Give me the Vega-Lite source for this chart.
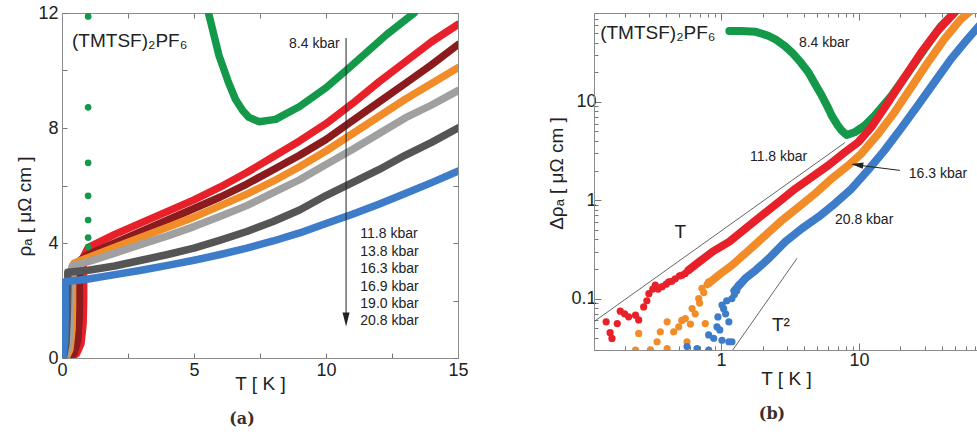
{
  "$schema": "https://vega.github.io/schema/vega-lite/v6.json",
  "padding": {"left": 15, "top": 4, "right": 0, "bottom": 0},
  "background": "white",
  "bounds": "flush",
  "spacing": 136,
  "config": {
    "font": "Liberation Sans",
    "view": {"stroke": null},
    "axis": {
      "grid": false,
      "labelFont": "Liberation Sans",
      "labelFontSize": 18,
      "labelColor": "#222",
      "titleFont": "Liberation Sans",
      "titleFontSize": 19,
      "titleFontWeight": "normal",
      "titleColor": "#222",
      "domainColor": "#8c8c8c",
      "tickColor": "#777",
      "labelFlush": false,
      "labelOverlap": false
    }
  },
  "datasets": {
    "lineA": [
      {"s": "11.8", "k": 0, "T": 0.3, "r": 0}, {"s": "11.8", "k": 1, "T": 0.55, "r": 0.15}, {"s": "11.8", "k": 2, "T": 0.72, "r": 0.5}, {"s": "11.8", "k": 3, "T": 0.8, "r": 1.2}, {"s": "11.8", "k": 4, "T": 0.82, "r": 2.0}, {"s": "11.8", "k": 5, "T": 0.82, "r": 2.8}, {"s": "11.8", "k": 6, "T": 0.8, "r": 3.5}, {"s": "11.8", "k": 7, "T": 1, "r": 3.85}, {"s": "11.8", "k": 8, "T": 2, "r": 4.3}, {"s": "11.8", "k": 9, "T": 3, "r": 4.7}, {"s": "11.8", "k": 10, "T": 4, "r": 5.1}, {"s": "11.8", "k": 11, "T": 5, "r": 5.5}, {"s": "11.8", "k": 12, "T": 6, "r": 5.95}, {"s": "11.8", "k": 13, "T": 7, "r": 6.45}, {"s": "11.8", "k": 14, "T": 8, "r": 7.0}, {"s": "11.8", "k": 15, "T": 9, "r": 7.55}, {"s": "11.8", "k": 16, "T": 10, "r": 8.15}, {"s": "11.8", "k": 17, "T": 11, "r": 8.85}, {"s": "11.8", "k": 18, "T": 12, "r": 9.6}, {"s": "11.8", "k": 19, "T": 13, "r": 10.3}, {"s": "11.8", "k": 20, "T": 14, "r": 11.0}, {"s": "11.8", "k": 21, "T": 15, "r": 11.6},
      {"s": "13.8", "k": 0, "T": 0.25, "r": 0}, {"s": "13.8", "k": 1, "T": 0.45, "r": 0.15}, {"s": "13.8", "k": 2, "T": 0.6, "r": 0.6}, {"s": "13.8", "k": 3, "T": 0.65, "r": 1.4}, {"s": "13.8", "k": 4, "T": 0.66, "r": 2.2}, {"s": "13.8", "k": 5, "T": 0.65, "r": 2.9}, {"s": "13.8", "k": 6, "T": 0.62, "r": 3.35}, {"s": "13.8", "k": 7, "T": 1, "r": 3.6}, {"s": "13.8", "k": 8, "T": 2, "r": 4.0}, {"s": "13.8", "k": 9, "T": 3, "r": 4.4}, {"s": "13.8", "k": 10, "T": 4, "r": 4.8}, {"s": "13.8", "k": 11, "T": 5, "r": 5.2}, {"s": "13.8", "k": 12, "T": 6, "r": 5.6}, {"s": "13.8", "k": 13, "T": 7, "r": 6.05}, {"s": "13.8", "k": 14, "T": 8, "r": 6.55}, {"s": "13.8", "k": 15, "T": 9, "r": 7.05}, {"s": "13.8", "k": 16, "T": 10, "r": 7.6}, {"s": "13.8", "k": 17, "T": 11, "r": 8.25}, {"s": "13.8", "k": 18, "T": 12, "r": 8.9}, {"s": "13.8", "k": 19, "T": 13, "r": 9.55}, {"s": "13.8", "k": 20, "T": 14, "r": 10.2}, {"s": "13.8", "k": 21, "T": 15, "r": 10.9},
      {"s": "16.3", "k": 0, "T": 0.15, "r": 0}, {"s": "16.3", "k": 1, "T": 0.3, "r": 0.3}, {"s": "16.3", "k": 2, "T": 0.38, "r": 1.0}, {"s": "16.3", "k": 3, "T": 0.4, "r": 1.8}, {"s": "16.3", "k": 4, "T": 0.4, "r": 2.6}, {"s": "16.3", "k": 5, "T": 0.45, "r": 3.3}, {"s": "16.3", "k": 6, "T": 1, "r": 3.5}, {"s": "16.3", "k": 7, "T": 2, "r": 3.85}, {"s": "16.3", "k": 8, "T": 3, "r": 4.2}, {"s": "16.3", "k": 9, "T": 4, "r": 4.55}, {"s": "16.3", "k": 10, "T": 5, "r": 4.9}, {"s": "16.3", "k": 11, "T": 6, "r": 5.3}, {"s": "16.3", "k": 12, "T": 7, "r": 5.7}, {"s": "16.3", "k": 13, "T": 8, "r": 6.15}, {"s": "16.3", "k": 14, "T": 9, "r": 6.65}, {"s": "16.3", "k": 15, "T": 10, "r": 7.2}, {"s": "16.3", "k": 16, "T": 11, "r": 7.8}, {"s": "16.3", "k": 17, "T": 12, "r": 8.4}, {"s": "16.3", "k": 18, "T": 13, "r": 9.0}, {"s": "16.3", "k": 19, "T": 14, "r": 9.55}, {"s": "16.3", "k": 20, "T": 15, "r": 10.1},
      {"s": "16.9", "k": 0, "T": 0.1, "r": 0}, {"s": "16.9", "k": 1, "T": 0.25, "r": 0.4}, {"s": "16.9", "k": 2, "T": 0.3, "r": 1.2}, {"s": "16.9", "k": 3, "T": 0.32, "r": 2.0}, {"s": "16.9", "k": 4, "T": 0.33, "r": 2.7}, {"s": "16.9", "k": 5, "T": 0.38, "r": 3.2}, {"s": "16.9", "k": 6, "T": 1, "r": 3.35}, {"s": "16.9", "k": 7, "T": 2, "r": 3.65}, {"s": "16.9", "k": 8, "T": 3, "r": 3.95}, {"s": "16.9", "k": 9, "T": 4, "r": 4.25}, {"s": "16.9", "k": 10, "T": 5, "r": 4.57}, {"s": "16.9", "k": 11, "T": 6, "r": 4.93}, {"s": "16.9", "k": 12, "T": 7, "r": 5.3}, {"s": "16.9", "k": 13, "T": 8, "r": 5.75}, {"s": "16.9", "k": 14, "T": 9, "r": 6.2}, {"s": "16.9", "k": 15, "T": 10, "r": 6.73}, {"s": "16.9", "k": 16, "T": 11, "r": 7.25}, {"s": "16.9", "k": 17, "T": 12, "r": 7.8}, {"s": "16.9", "k": 18, "T": 13, "r": 8.35}, {"s": "16.9", "k": 19, "T": 14, "r": 8.8}, {"s": "16.9", "k": 20, "T": 15, "r": 9.3},
      {"s": "19.0", "k": 0, "T": 0.05, "r": 0}, {"s": "19.0", "k": 1, "T": 0.15, "r": 0.5}, {"s": "19.0", "k": 2, "T": 0.2, "r": 1.5}, {"s": "19.0", "k": 3, "T": 0.22, "r": 2.4}, {"s": "19.0", "k": 4, "T": 0.22, "r": 2.98}, {"s": "19.0", "k": 5, "T": 1, "r": 3.05}, {"s": "19.0", "k": 6, "T": 2, "r": 3.2}, {"s": "19.0", "k": 7, "T": 3, "r": 3.4}, {"s": "19.0", "k": 8, "T": 4, "r": 3.6}, {"s": "19.0", "k": 9, "T": 5, "r": 3.82}, {"s": "19.0", "k": 10, "T": 6, "r": 4.1}, {"s": "19.0", "k": 11, "T": 7, "r": 4.4}, {"s": "19.0", "k": 12, "T": 8, "r": 4.75}, {"s": "19.0", "k": 13, "T": 9, "r": 5.15}, {"s": "19.0", "k": 14, "T": 10, "r": 5.65}, {"s": "19.0", "k": 15, "T": 11, "r": 6.1}, {"s": "19.0", "k": 16, "T": 12, "r": 6.55}, {"s": "19.0", "k": 17, "T": 13, "r": 7.05}, {"s": "19.0", "k": 18, "T": 14, "r": 7.5}, {"s": "19.0", "k": 19, "T": 15, "r": 8.0},
      {"s": "20.8", "k": 0, "T": 0.03, "r": 0}, {"s": "20.8", "k": 1, "T": 0.1, "r": 0.6}, {"s": "20.8", "k": 2, "T": 0.12, "r": 1.4}, {"s": "20.8", "k": 3, "T": 0.12, "r": 2.1}, {"s": "20.8", "k": 4, "T": 0.12, "r": 2.65}, {"s": "20.8", "k": 5, "T": 1, "r": 2.75}, {"s": "20.8", "k": 6, "T": 2, "r": 2.9}, {"s": "20.8", "k": 7, "T": 3, "r": 3.05}, {"s": "20.8", "k": 8, "T": 4, "r": 3.22}, {"s": "20.8", "k": 9, "T": 5, "r": 3.4}, {"s": "20.8", "k": 10, "T": 6, "r": 3.6}, {"s": "20.8", "k": 11, "T": 7, "r": 3.82}, {"s": "20.8", "k": 12, "T": 8, "r": 4.07}, {"s": "20.8", "k": 13, "T": 9, "r": 4.35}, {"s": "20.8", "k": 14, "T": 10, "r": 4.68}, {"s": "20.8", "k": 15, "T": 11, "r": 5.0}, {"s": "20.8", "k": 16, "T": 12, "r": 5.35}, {"s": "20.8", "k": 17, "T": 13, "r": 5.72}, {"s": "20.8", "k": 18, "T": 14, "r": 6.1}, {"s": "20.8", "k": 19, "T": 15, "r": 6.5},
      {"s": "8.4", "k": 0, "T": 5.45, "r": 12.6}, {"s": "8.4", "k": 1, "T": 5.55, "r": 12.0}, {"s": "8.4", "k": 2, "T": 5.94, "r": 10.54}, {"s": "8.4", "k": 3, "T": 6.3, "r": 9.6}, {"s": "8.4", "k": 4, "T": 6.57, "r": 9.0}, {"s": "8.4", "k": 5, "T": 6.85, "r": 8.6}, {"s": "8.4", "k": 6, "T": 7.08, "r": 8.37}, {"s": "8.4", "k": 7, "T": 7.46, "r": 8.22}, {"s": "8.4", "k": 8, "T": 8.09, "r": 8.3}, {"s": "8.4", "k": 9, "T": 9.0, "r": 8.75}, {"s": "8.4", "k": 10, "T": 10.0, "r": 9.4}, {"s": "8.4", "k": 11, "T": 10.76, "r": 10.0}, {"s": "8.4", "k": 12, "T": 11.5, "r": 10.6}, {"s": "8.4", "k": 13, "T": 12.3, "r": 11.25}, {"s": "8.4", "k": 14, "T": 13.34, "r": 12.0}, {"s": "8.4", "k": 15, "T": 13.6, "r": 12.4}
    ],
    "dotsA": [
      {"T": 0.99, "r": 11.88}, {"T": 0.99, "r": 8.72}, {"T": 0.99, "r": 6.79}, {"T": 0.99, "r": 5.64}, {"T": 0.99, "r": 4.8}, {"T": 0.99, "r": 4.19}, {"T": 0.99, "r": 3.86}
    ],
    "textA": [
      {"t": "8.4 kbar", "T": 8.6, "r": 10.92},
      {"t": "11.8 kbar", "T": 11.3, "r": 4.31},
      {"t": "13.8 kbar", "T": 11.3, "r": 3.68},
      {"t": "16.3 kbar", "T": 11.3, "r": 3.1},
      {"t": "16.9 kbar", "T": 11.3, "r": 2.47},
      {"t": "19.0 kbar", "T": 11.3, "r": 1.88},
      {"t": "20.8 kbar", "T": 11.3, "r": 1.29}
    ],
    "lineB": [
      {"s": "8.4", "T": 1.15, "v": 52.5}, {"s": "8.4", "T": 1.4, "v": 52.5}, {"s": "8.4", "T": 1.79, "v": 51.5}, {"s": "8.4", "T": 2.2, "v": 47}, {"s": "8.4", "T": 2.49, "v": 43}, {"s": "8.4", "T": 2.9, "v": 37}, {"s": "8.4", "T": 3.28, "v": 31.6}, {"s": "8.4", "T": 3.8, "v": 25}, {"s": "8.4", "T": 4.32, "v": 19.8}, {"s": "8.4", "T": 4.9, "v": 14.5}, {"s": "8.4", "T": 5.39, "v": 11.5}, {"s": "8.4", "T": 5.9, "v": 9}, {"s": "8.4", "T": 6.35, "v": 7.24}, {"s": "8.4", "T": 7.0, "v": 5.8}, {"s": "8.4", "T": 7.5, "v": 5.1}, {"s": "8.4", "T": 8.15, "v": 4.6}, {"s": "8.4", "T": 9.3, "v": 4.9}, {"s": "8.4", "T": 11.0, "v": 5.74}, {"s": "8.4", "T": 13.0, "v": 7.24}, {"s": "8.4", "T": 17.2, "v": 11.5}, {"s": "8.4", "T": 22.7, "v": 19.8}, {"s": "8.4", "T": 29.8, "v": 34.2}, {"s": "8.4", "T": 39.3, "v": 58.9}, {"s": "8.4", "T": 50.3, "v": 83},
      {"s": "11.8", "T": 0.58, "v": 0.194}, {"s": "11.8", "T": 0.7, "v": 0.238}, {"s": "11.8", "T": 0.87, "v": 0.3}, {"s": "11.8", "T": 1.15, "v": 0.379}, {"s": "11.8", "T": 1.51, "v": 0.517}, {"s": "11.8", "T": 1.99, "v": 0.705}, {"s": "11.8", "T": 2.63, "v": 0.962}, {"s": "11.8", "T": 3.46, "v": 1.31}, {"s": "11.8", "T": 4.56, "v": 1.72}, {"s": "11.8", "T": 6.0, "v": 2.26}, {"s": "11.8", "T": 7.92, "v": 3.08}, {"s": "11.8", "T": 9.9, "v": 3.89}, {"s": "11.8", "T": 12.3, "v": 5.53}, {"s": "11.8", "T": 16.3, "v": 9.9}, {"s": "11.8", "T": 21.4, "v": 17.7}, {"s": "11.8", "T": 28.2, "v": 31.6}, {"s": "11.8", "T": 37.1, "v": 52.5}, {"s": "11.8", "T": 49, "v": 80}, {"s": "11.8", "T": 55, "v": 100},
      {"s": "16.3", "T": 0.8, "v": 0.14}, {"s": "16.3", "T": 0.973, "v": 0.175}, {"s": "16.3", "T": 1.21, "v": 0.22}, {"s": "16.3", "T": 1.6, "v": 0.312}, {"s": "16.3", "T": 2.11, "v": 0.443}, {"s": "16.3", "T": 2.78, "v": 0.628}, {"s": "16.3", "T": 3.66, "v": 0.856}, {"s": "16.3", "T": 4.82, "v": 1.17}, {"s": "16.3", "T": 6.35, "v": 1.66}, {"s": "16.3", "T": 8.37, "v": 2.26}, {"s": "16.3", "T": 10.4, "v": 2.97}, {"s": "16.3", "T": 13.8, "v": 4.72}, {"s": "16.3", "T": 18.1, "v": 7.83}, {"s": "16.3", "T": 23.9, "v": 14.0}, {"s": "16.3", "T": 31.5, "v": 25.0}, {"s": "16.3", "T": 41.5, "v": 43.2}, {"s": "16.3", "T": 54.6, "v": 68.7}, {"s": "16.3", "T": 68.2, "v": 90},
      {"s": "20.8", "T": 1.25, "v": 0.12}, {"s": "20.8", "T": 1.5, "v": 0.16}, {"s": "20.8", "T": 1.79, "v": 0.195}, {"s": "20.8", "T": 2.23, "v": 0.257}, {"s": "20.8", "T": 2.93, "v": 0.379}, {"s": "20.8", "T": 3.87, "v": 0.517}, {"s": "20.8", "T": 5.1, "v": 0.678}, {"s": "20.8", "T": 6.7, "v": 0.925}, {"s": "20.8", "T": 8.85, "v": 1.31}, {"s": "20.8", "T": 11.6, "v": 2.01}, {"s": "20.8", "T": 15.3, "v": 3.2}, {"s": "20.8", "T": 20.1, "v": 5.3}, {"s": "20.8", "T": 26.6, "v": 9.1}, {"s": "20.8", "T": 35.1, "v": 15.7}, {"s": "20.8", "T": 46.4, "v": 27.1}, {"s": "20.8", "T": 61.1, "v": 43.2}, {"s": "20.8", "T": 75, "v": 60}
    ],
    "dotsB": [
      {"s": "11.8", "T": 0.147, "v": 0.058}, {"s": "11.8", "T": 0.162, "v": 0.0393}, {"s": "11.8", "T": 0.157, "v": 0.045}, {"s": "11.8", "T": 0.177, "v": 0.0557}, {"s": "11.8", "T": 0.186, "v": 0.0744}, {"s": "11.8", "T": 0.2, "v": 0.07}, {"s": "11.8", "T": 0.214, "v": 0.0652}, {"s": "11.8", "T": 0.24, "v": 0.0678}, {"s": "11.8", "T": 0.253, "v": 0.0606}, {"s": "11.8", "T": 0.275, "v": 0.0822}, {"s": "11.8", "T": 0.29, "v": 0.095}, {"s": "11.8", "T": 0.3, "v": 0.112}, {"s": "11.8", "T": 0.32, "v": 0.125}, {"s": "11.8", "T": 0.334, "v": 0.137}, {"s": "11.8", "T": 0.35, "v": 0.125}, {"s": "11.8", "T": 0.374, "v": 0.132}, {"s": "11.8", "T": 0.4, "v": 0.14}, {"s": "11.8", "T": 0.418, "v": 0.148}, {"s": "11.8", "T": 0.44, "v": 0.15}, {"s": "11.8", "T": 0.466, "v": 0.159}, {"s": "11.8", "T": 0.5, "v": 0.17}, {"s": "11.8", "T": 0.522, "v": 0.173}, {"s": "11.8", "T": 0.55, "v": 0.18}, {"s": "11.8", "T": 0.583, "v": 0.194},
      {"s": "16.3", "T": 0.24, "v": 0.03}, {"s": "16.3", "T": 0.253, "v": 0.0442}, {"s": "16.3", "T": 0.308, "v": 0.0301}, {"s": "16.3", "T": 0.344, "v": 0.0364}, {"s": "16.3", "T": 0.363, "v": 0.046}, {"s": "16.3", "T": 0.407, "v": 0.058}, {"s": "16.3", "T": 0.407, "v": 0.031}, {"s": "16.3", "T": 0.454, "v": 0.046}, {"s": "16.3", "T": 0.494, "v": 0.0516}, {"s": "16.3", "T": 0.52, "v": 0.06}, {"s": "16.3", "T": 0.551, "v": 0.0626}, {"s": "16.3", "T": 0.567, "v": 0.0364}, {"s": "16.3", "T": 0.6, "v": 0.055}, {"s": "16.3", "T": 0.617, "v": 0.0792}, {"s": "16.3", "T": 0.65, "v": 0.07}, {"s": "16.3", "T": 0.689, "v": 0.1}, {"s": "16.3", "T": 0.7, "v": 0.09}, {"s": "16.3", "T": 0.728, "v": 0.127}, {"s": "16.3", "T": 0.75, "v": 0.115}, {"s": "16.3", "T": 0.769, "v": 0.0557}, {"s": "16.3", "T": 0.814, "v": 0.148},
      {"s": "20.8", "T": 0.567, "v": 0.0325}, {"s": "20.8", "T": 0.67, "v": 0.031}, {"s": "20.8", "T": 0.814, "v": 0.03}, {"s": "20.8", "T": 0.814, "v": 0.0427}, {"s": "20.8", "T": 0.885, "v": 0.0395}, {"s": "20.8", "T": 0.935, "v": 0.0516}, {"s": "20.8", "T": 0.95, "v": 0.065}, {"s": "20.8", "T": 0.98, "v": 0.048}, {"s": "20.8", "T": 1.017, "v": 0.0377}, {"s": "20.8", "T": 1.017, "v": 0.086}, {"s": "20.8", "T": 1.045, "v": 0.079}, {"s": "20.8", "T": 1.08, "v": 0.07}, {"s": "20.8", "T": 1.1, "v": 0.095}, {"s": "20.8", "T": 1.14, "v": 0.058}, {"s": "20.8", "T": 1.14, "v": 0.0364}, {"s": "20.8", "T": 1.2, "v": 0.0364}, {"s": "20.8", "T": 1.2, "v": 0.1}, {"s": "20.8", "T": 1.25, "v": 0.11}, {"s": "20.8", "T": 1.3, "v": 0.12}, {"s": "20.8", "T": 1.34, "v": 0.137}
    ],
    "guideB": [
      {"g": "T", "T": 0.12, "T2": 7.9, "v": 0.0583, "v2": 3.84},
      {"g": "T2", "T": 1.21, "T2": 3.56, "v": 0.0297, "v2": 0.257}
    ],
    "textB": [
      {"t": "8.4 kbar", "T": 3.67, "v": 39.8},
      {"t": "11.8 kbar", "T": 1.62, "v": 2.73},
      {"t": "16.3 kbar", "T": 23.0, "v": 1.83},
      {"t": "20.8 kbar", "T": 6.7, "v": 0.627}
    ],
    "bigB": [
      {"t": "(TMTSF)₂PF₆", "T": 0.133, "v": 50.4},
      {"t": "T", "T": 0.46, "v": 0.474},
      {"t": "T²", "T": 2.34, "v": 0.0542}
    ]
  },
  "hconcat": [
    {
      "width": 396,
      "height": 345,
      "title": {"text": "(a)", "orient": "bottom", "font": "DejaVu Serif", "fontSize": 16, "fontWeight": "bold", "color": "#3b2f2a", "offset": 18, "dx": -18},
      "layer": [
        {
          "data": {"name": "lineA"},
          "mark": {"type": "line", "strokeWidth": 7.5, "strokeCap": "round", "strokeJoin": "round", "clip": true},
          "encoding": {
            "x": {"field": "T", "type": "quantitative", "scale": {"domain": [0, 15], "nice": false, "zero": false},
              "axis": {"orient": "bottom", "title": "T [ K ]", "values": [0, 2.5, 5, 7.5, 10, 12.5, 15], "labelExpr": "datum.value % 5 == 0 ? datum.label : ''", "tickSize": -5, "labelPadding": 8, "titleY": 16, "titleBaseline": "top"}},
            "y": {"field": "r", "type": "quantitative", "scale": {"domain": [0, 12], "nice": false, "zero": false},
              "axis": {"orient": "left", "title": "ρₐ [ μΩ cm ]", "values": [0, 2, 4, 6, 8, 10, 12], "labelExpr": "datum.value % 4 == 0 ? datum.label : ''", "tickSize": -5, "labelPadding": 9, "titleX": -38, "titleY": 193, "titleBaseline": "middle", "titleAngle": -90}},
            "color": {"field": "s", "type": "nominal", "legend": null,
              "scale": {"domain": ["8.4", "11.8", "13.8", "16.3", "16.9", "19.0", "20.8"], "range": ["#14984a", "#e8202a", "#8b1b1d", "#f28c28", "#a0a0a0", "#555555", "#3d7cc9"]}},
            "order": {"field": "k", "type": "quantitative"}
          }
        },
        {
          "data": {"name": "dotsA"},
          "mark": {"type": "circle", "size": 45, "opacity": 1, "clip": true, "color": "#14984a"},
          "encoding": {
            "x": {"field": "T", "type": "quantitative", "axis": {"orient": "top", "title": null, "labels": false, "values": [0, 2.5, 5, 7.5, 10, 12.5, 15], "tickSize": -5}},
            "y": {"field": "r", "type": "quantitative", "axis": {"orient": "right", "title": null, "labels": false, "values": [0, 2, 4, 6, 8, 10, 12], "tickSize": -5}}
          }
        },
        {
          "data": {"values": [{}]},
          "mark": {"type": "rule", "color": "#222", "strokeWidth": 1},
          "encoding": {
            "x": {"datum": 10.76, "type": "quantitative", "axis": null},
            "y": {"datum": 11.13, "type": "quantitative", "axis": null},
            "y2": {"datum": 1.5}
          }
        },
        {
          "data": {"values": [{}]},
          "mark": {"type": "point", "shape": "M -0.5 -1 L 0.5 -1 L 0 1 Z", "filled": true, "color": "#222", "size": 200, "opacity": 1},
          "encoding": {
            "x": {"datum": 10.76, "type": "quantitative", "axis": null},
            "y": {"datum": 1.34, "type": "quantitative", "axis": null}
          }
        },
        {
          "data": {"name": "textA"},
          "mark": {"type": "text", "align": "left", "baseline": "middle", "fontSize": 14, "color": "#222"},
          "encoding": {
            "x": {"field": "T", "type": "quantitative", "axis": null},
            "y": {"field": "r", "type": "quantitative", "axis": null},
            "text": {"field": "t"}
          }
        },
        {
          "data": {"values": [{"t": "(TMTSF)₂PF₆"}]},
          "mark": {"type": "text", "align": "left", "baseline": "middle", "fontSize": 19, "color": "#222"},
          "encoding": {
            "x": {"datum": 0.38, "type": "quantitative", "axis": null},
            "y": {"datum": 11.03, "type": "quantitative", "axis": null},
            "text": {"field": "t"}
          }
        }
      ],
      "resolve": {"axis": {"x": "independent", "y": "independent"}}
    },
    {
      "width": 384,
      "height": 337,
      "title": {"text": "(b)", "orient": "bottom", "font": "DejaVu Serif", "fontSize": 16, "fontWeight": "bold", "color": "#3b2f2a", "offset": 18, "dx": -14},
      "layer": [
        {
          "data": {"name": "lineB"},
          "mark": {"type": "line", "strokeWidth": 8, "strokeCap": "round", "strokeJoin": "round", "clip": true},
          "encoding": {
            "x": {"field": "T", "type": "quantitative", "scale": {"type": "log", "domain": [0.12, 73], "nice": false},
              "axis": {"orient": "bottom", "title": "T [ K ]", "format": "~g",
                "values": [0.2, 0.3, 0.4, 0.5, 0.6, 0.7, 0.8, 0.9, 1, 2, 3, 4, 5, 6, 7, 8, 9, 10, 20, 30, 40, 50, 60, 70],
                "labelExpr": "datum.value == 1 || datum.value == 10 ? datum.label : ''",
                "tickSize": {"condition": {"test": "datum.value == 1 || datum.value == 10", "value": -7}, "value": -4},
                "labelPadding": 8, "titleY": 19, "titleBaseline": "top"}},
            "y": {"field": "v", "type": "quantitative", "scale": {"type": "log", "domain": [0.03, 80], "nice": false},
              "axis": {"orient": "left", "title": "Δρₐ [ μΩ cm ]", "format": "~g",
                "values": [0.03, 0.04, 0.05, 0.06, 0.07, 0.08, 0.09, 0.1, 0.2, 0.3, 0.4, 0.5, 0.6, 0.7, 0.8, 0.9, 1, 2, 3, 4, 5, 6, 7, 8, 9, 10, 20, 30, 40, 50, 60, 70, 80],
                "labelExpr": "datum.value == 0.1 || datum.value == 1 || datum.value == 10 ? datum.label : ''",
                "tickSize": {"condition": {"test": "datum.value == 0.1 || datum.value == 1 || datum.value == 10", "value": -7}, "value": -4},
                "labelPadding": 5, "titleX": -38, "titleY": 160, "titleBaseline": "middle", "titleAngle": -90}},
            "color": {"field": "s", "type": "nominal", "legend": null,
              "scale": {"domain": ["8.4", "11.8", "13.8", "16.3", "16.9", "19.0", "20.8"], "range": ["#14984a", "#e8202a", "#8b1b1d", "#f28c28", "#a0a0a0", "#555555", "#3d7cc9"]}},
            "strokeWidth": {"condition": {"test": "datum.s == '8.4'", "value": 9.5}, "value": 8}
          }
        },
        {
          "data": {"name": "dotsB"},
          "mark": {"type": "circle", "size": 52, "opacity": 1, "clip": true},
          "encoding": {
            "x": {"field": "T", "type": "quantitative",
              "axis": {"orient": "top", "title": null, "labels": false,
                "values": [0.2, 0.3, 0.4, 0.5, 0.6, 0.7, 0.8, 0.9, 1, 2, 3, 4, 5, 6, 7, 8, 9, 10, 20, 30, 40, 50, 60, 70],
                "tickSize": {"condition": {"test": "datum.value == 1 || datum.value == 10", "value": -7}, "value": -4}}},
            "y": {"field": "v", "type": "quantitative", "axis": null},
            "color": {"field": "s", "type": "nominal", "legend": null,
              "scale": {"domain": ["8.4", "11.8", "13.8", "16.3", "16.9", "19.0", "20.8"], "range": ["#14984a", "#e8202a", "#8b1b1d", "#f28c28", "#a0a0a0", "#555555", "#3d7cc9"]}}
          }
        },
        {
          "data": {"name": "guideB"},
          "mark": {"type": "rule", "color": "#555", "strokeWidth": 0.9, "clip": true},
          "encoding": {
            "x": {"field": "T", "type": "quantitative", "axis": null},
            "x2": {"field": "T2"},
            "y": {"field": "v", "type": "quantitative", "axis": null},
            "y2": {"field": "v2"}
          }
        },
        {
          "data": {"values": [{}]},
          "mark": {"type": "rule", "color": "#222", "strokeWidth": 1},
          "encoding": {
            "x": {"datum": 19.8, "type": "quantitative", "axis": null},
            "x2": {"datum": 9.9},
            "y": {"datum": 2.01, "type": "quantitative", "axis": null},
            "y2": {"datum": 2.27}
          }
        },
        {
          "data": {"values": [{}]},
          "mark": {"type": "point", "shape": "M -0.5 -1 L 0.5 -1 L 0 1 Z", "filled": true, "color": "#222", "size": 150, "opacity": 1, "angle": 98},
          "encoding": {
            "x": {"datum": 9.7, "type": "quantitative", "axis": null},
            "y": {"datum": 2.29, "type": "quantitative", "axis": null}
          }
        },
        {
          "data": {"name": "textB"},
          "mark": {"type": "text", "align": "left", "baseline": "middle", "fontSize": 14, "color": "#222"},
          "encoding": {
            "x": {"field": "T", "type": "quantitative", "axis": null},
            "y": {"field": "v", "type": "quantitative", "axis": null},
            "text": {"field": "t"}
          }
        },
        {
          "data": {"name": "bigB"},
          "mark": {"type": "text", "align": "left", "baseline": "middle", "fontSize": 19, "color": "#222"},
          "encoding": {
            "x": {"field": "T", "type": "quantitative", "axis": null},
            "y": {"field": "v", "type": "quantitative", "axis": null},
            "text": {"field": "t"}
          }
        }
      ],
      "resolve": {"axis": {"x": "independent", "y": "independent"}}
    }
  ]
}
